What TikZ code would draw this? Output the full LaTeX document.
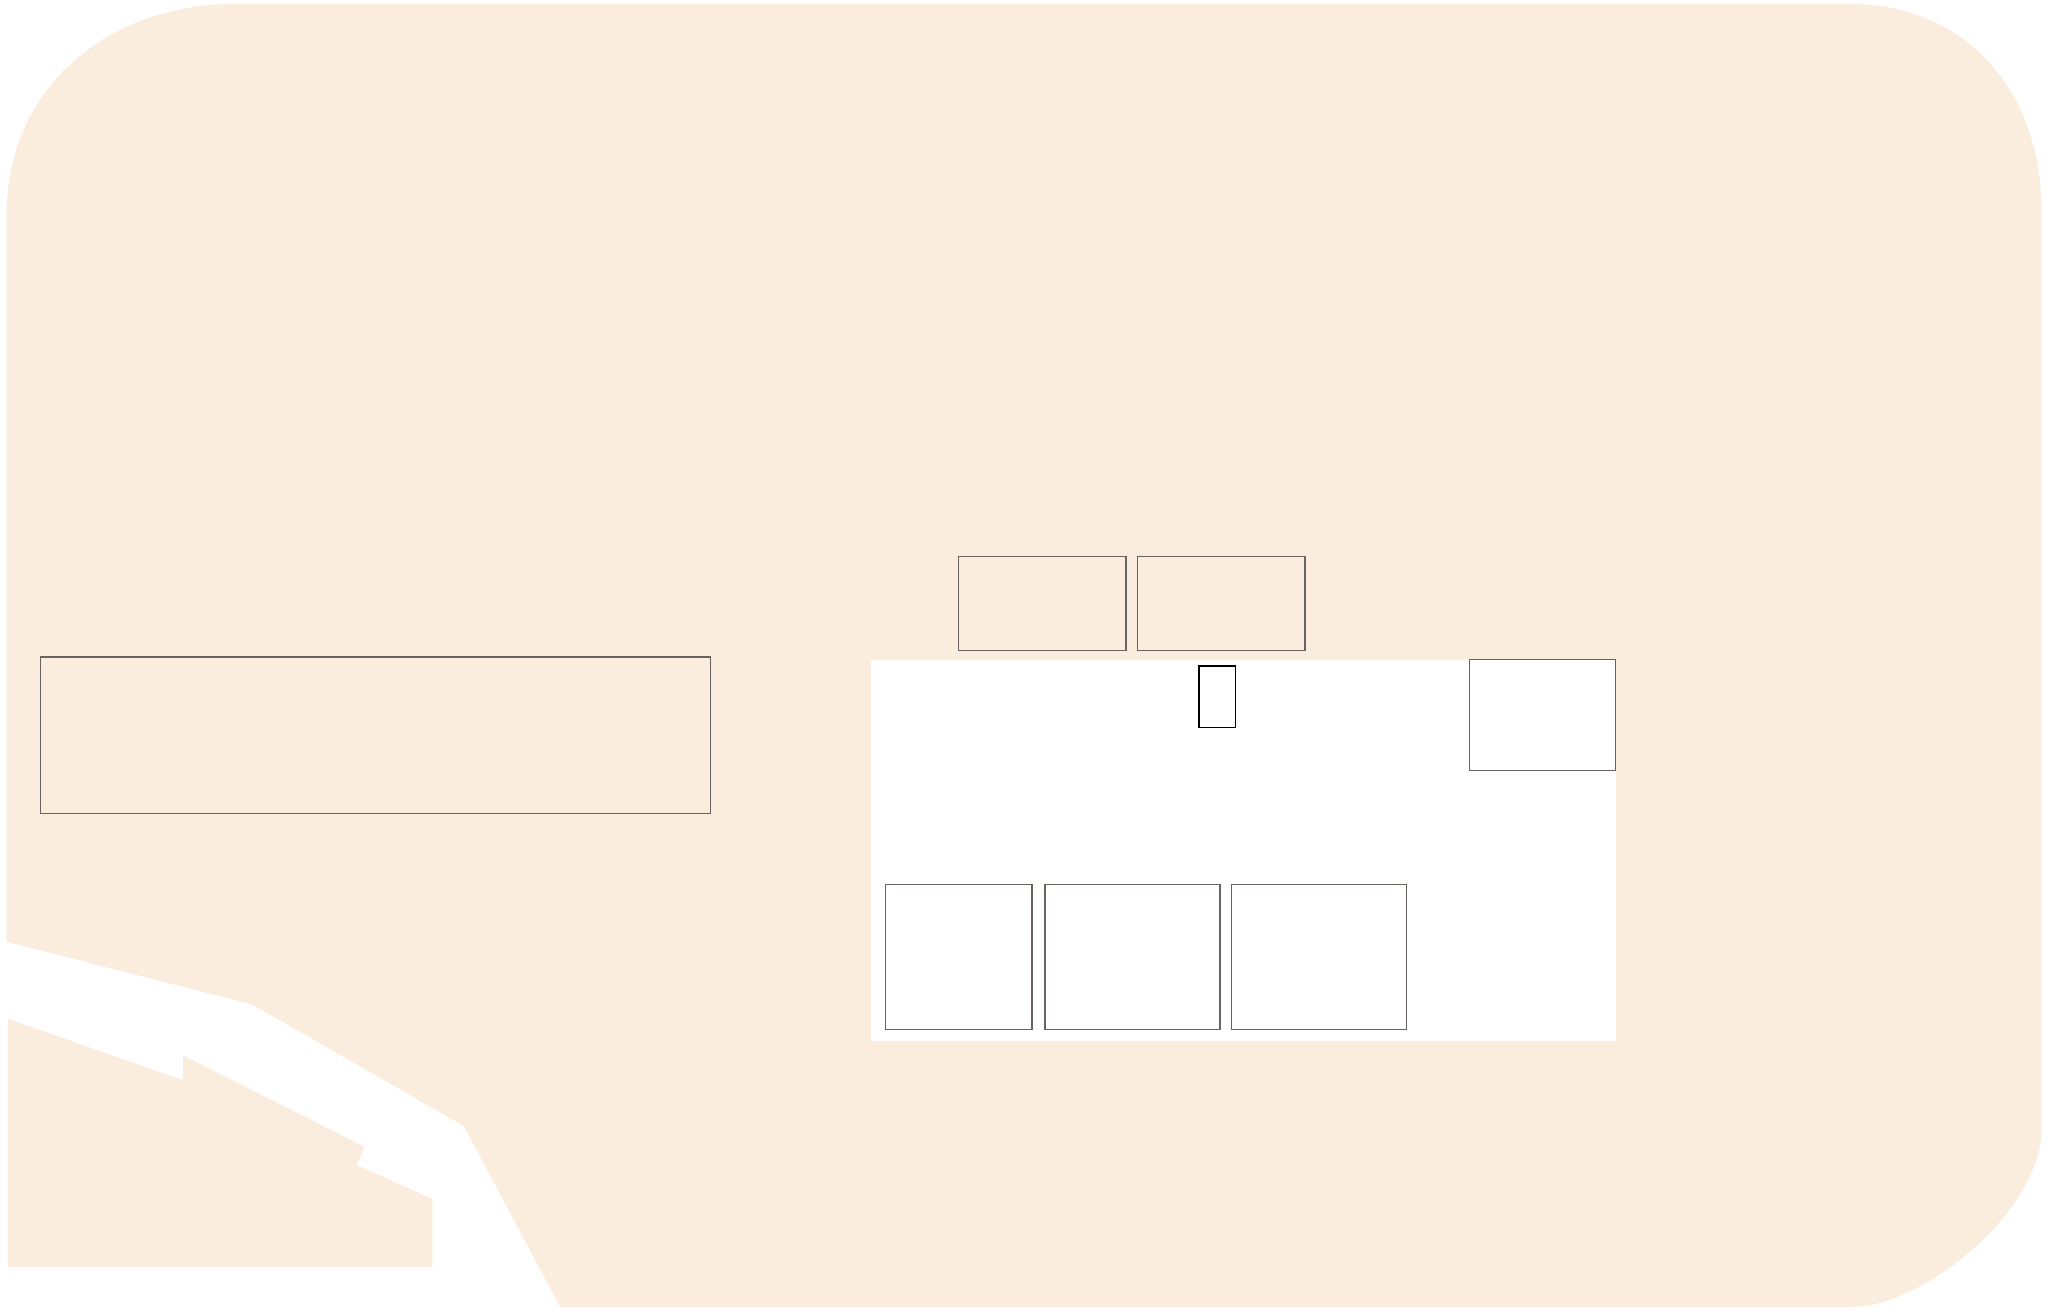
\documentclass[tikz,border=0pt]{standalone}
\definecolor{beige}{RGB}{250,237,222}
\definecolor{edge}{RGB}{105,98,94}
\begin{document}
\begin{tikzpicture}[x=0.01cm,y=-0.01cm,
  room/.style={draw=edge,line width=0.3pt},
  post/.style={draw=black,line width=0.35pt}]
\useasboundingbox (0,0) rectangle (1568,1006);
% main area
\fill[beige] (5,721) -- (5,165) .. controls (5,65) and (85,3) .. (180,3)
  -- (1415,3) .. controls (1510,3) and (1563,75) .. (1563,160)
  -- (1563,865) .. controls (1563,925) and (1475,1001) .. (1415,1001)
  -- (429,1001) -- (355,862) -- (193,769) -- cycle;
% lower-left area
\fill[beige] (6,780) -- (140,827) -- (140,808) -- (279,878) -- (273,892)
  -- (331,918) -- (331,970) -- (6,970) -- cycle;
% white hall
\fill[white] (667,505) rectangle (1237,797);
% rooms
\draw[room] (31,503) rectangle (544,623);
\draw[room] (734,426) rectangle (862,498);
\draw[room] (871,426) rectangle (999,498);
\draw[room] (1125,505) rectangle (1237,590);
\draw[room] (678,677) rectangle (790,788);
\draw[room] (800,677) rectangle (934,788);
\draw[room] (943,677) rectangle (1077,788);
\draw[post] (918,510) rectangle (946,557);
\end{tikzpicture}
\end{document}
